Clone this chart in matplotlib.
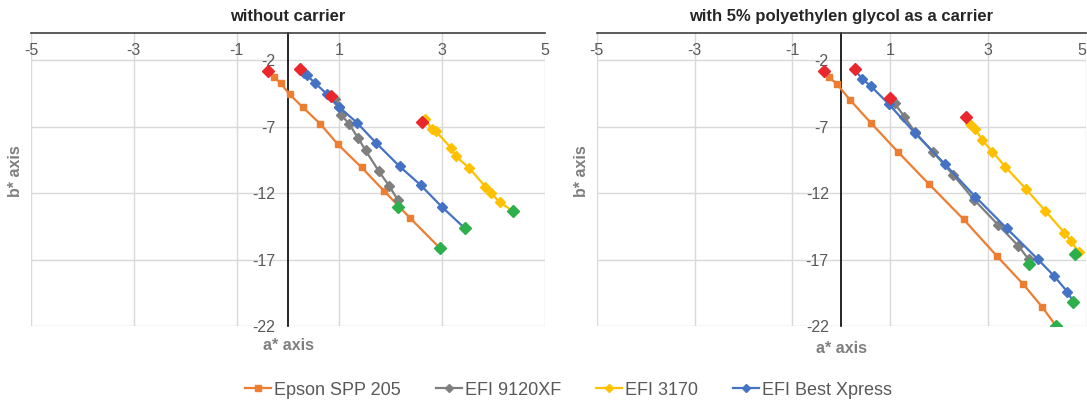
import matplotlib.pyplot as plt
from matplotlib.lines import Line2D

plt.rcParams["font.family"] = ["Liberation Sans", "DejaVu Sans"]
plt.rcParams["axes.unicode_minus"] = False

series_names = ["Epson SPP 205", "EFI 9120XF", "EFI 3170", "EFI Best Xpress"]
series_colors = ["#ED7D31", "#7F7F7F", "#FFC000", "#4472C4"]
series_markers = ["s", "D", "D", "D"]
panel_titles = ["without carrier", "with 5% polyethylen glycol as a carrier"]
x_ticks = [-5, -3, -1, 1, 3, 5]
y_ticks = [-22, -17, -12, -7, -2]

# without carrier (a*, b*)
wo_epson_a = [-0.39, -0.28, -0.14, 0.03, 0.29, 0.63, 0.97, 1.43, 1.87, 2.38, 2.96]
wo_epson_b = [-2.80, -3.26, -3.75, -4.58, -5.56, -6.81, -8.34, -10.07, -11.85, -13.90, -16.16]
wo_9120_a = [0.84, 0.92, 0.99, 1.04, 1.19, 1.36, 1.51, 1.77, 1.97, 2.14]
wo_9120_b = [-4.70, -4.95, -5.50, -6.14, -6.81, -7.84, -8.80, -10.38, -11.47, -12.55]
wo_3170_a = [2.61, 2.66, 2.80, 2.87, 3.18, 3.26, 3.52, 3.84, 3.94, 4.12, 4.37]
wo_3170_b = [-6.64, -6.44, -7.21, -7.34, -8.64, -9.22, -10.10, -11.53, -11.98, -12.70, -13.35]
wo_best_a = [0.24, 0.32, 0.37, 0.53, 0.75, 0.99, 1.34, 1.72, 2.17, 2.58, 2.99, 3.44]
wo_best_b = [-2.68, -2.95, -3.15, -3.75, -4.53, -5.51, -6.71, -8.26, -9.99, -11.40, -13.03, -14.65]
wo_start_a = [-0.39, 0.84, 2.61, 0.24]
wo_start_b = [-2.80, -4.70, -6.64, -2.68]
wo_end_a = [2.96, 2.14, 4.37, 3.44]
wo_end_b = [-16.16, -13.08, -13.35, -14.65]

# with 5% PEG (a*, b*)
peg_epson_a = [-0.36, -0.25, -0.09, 0.18, 0.60, 1.16, 1.79, 2.50, 3.18, 3.72, 4.11, 4.39]
peg_epson_b = [-2.80, -3.30, -3.80, -5.01, -6.71, -8.92, -11.32, -13.98, -16.74, -18.86, -20.59, -22.00]
peg_9120_a = [0.99, 1.09, 1.29, 1.50, 1.87, 2.29, 2.72, 3.21, 3.62, 3.83]
peg_9120_b = [-4.88, -5.26, -6.26, -7.39, -8.89, -10.65, -12.53, -14.41, -15.98, -16.99]
peg_3170_a = [2.55, 2.63, 2.74, 2.88, 3.09, 3.35, 3.78, 4.17, 4.56, 4.69, 4.85]
peg_3170_b = [-6.31, -6.81, -7.19, -8.02, -8.89, -10.02, -11.72, -13.35, -14.98, -15.59, -16.41]
peg_best_a = [0.27, 0.42, 0.60, 0.97, 1.51, 2.12, 2.74, 3.38, 4.02, 4.35, 4.62, 4.74]
peg_best_b = [-2.68, -3.40, -3.95, -5.31, -7.51, -9.84, -12.28, -14.65, -16.99, -18.24, -19.42, -20.17]
peg_start_a = [-0.36, 0.99, 2.55, 0.27]
peg_start_b = [-2.80, -4.88, -6.31, -2.68]
peg_end_a = [4.39, 3.83, 4.78, 4.74]
peg_end_b = [-22.00, -17.34, -16.59, -20.17]

panels = [
    ([(wo_epson_a, wo_epson_b), (wo_9120_a, wo_9120_b), (wo_3170_a, wo_3170_b), (wo_best_a, wo_best_b)],
     (wo_start_a, wo_start_b), (wo_end_a, wo_end_b)),
    ([(peg_epson_a, peg_epson_b), (peg_9120_a, peg_9120_b), (peg_3170_a, peg_3170_b), (peg_best_a, peg_best_b)],
     (peg_start_a, peg_start_b), (peg_end_a, peg_end_b)),
]

fig = plt.figure(figsize=(10.87, 4.03), dpi=100)
axes = [fig.add_axes([0.0285, 0.191, 0.4729, 0.726]),
        fig.add_axes([0.549, 0.191, 0.450, 0.726])]

tick_color = "#595959"
for ax, (series, start, end), title in zip(axes, panels, panel_titles):
    for (a, b), color, marker in zip(series, series_colors, series_markers):
        ms = 4.5 if marker == "s" else 5
        ax.plot(a, b, color=color, lw=1.6, marker=marker, ms=ms, zorder=3)
    ax.plot(start[0], start[1], ls="none", marker="D", ms=6.5, color="#E8282C", zorder=4)
    ax.plot(end[0], end[1], ls="none", marker="D", ms=6.5, color="#2DB04C", zorder=4)

    ax.set_xlim(-5, 5)
    ax.set_ylim(-22, 0)
    ax.set_xticks(x_ticks)
    ax.set_yticks(y_ticks)
    ax.grid(True, color="#D9D9D9", lw=1, zorder=0)

    for side in ["right", "bottom"]:
        ax.spines[side].set_visible(False)
    ax.spines["top"].set_color("#404040")
    ax.spines["top"].set_linewidth(1.2)
    ax.spines["left"].set_position(("data", 0))
    ax.spines["left"].set_color("#000000")
    ax.spines["left"].set_linewidth(1.2)

    ax.xaxis.set_ticks_position("top")
    ax.tick_params(axis="x", length=0, pad=-18, labelsize=11.5, labelcolor=tick_color)
    ax.tick_params(axis="y", length=0, pad=9, labelsize=11.5, labelcolor=tick_color)

    ax.set_title(title, fontsize=12, fontweight="bold", color="#262626", pad=9)
    ax.set_ylabel("b* axis", fontsize=11.5, fontweight="bold", color="#7F7F7F")
    ax.set_xlabel("a* axis", fontsize=11.5, fontweight="bold", color="#7F7F7F")

# keep the last "5" inside the figure on the right panel
axes[1].get_xticklabels()[-1].set_horizontalalignment("right")

axes[0].yaxis.set_label_coords(-0.015, 0.53)
axes[1].yaxis.set_label_coords(-0.016, 0.53)
axes[0].xaxis.set_label_coords(0.5, -0.041)
axes[1].xaxis.set_label_coords(0.5, -0.051)

handles = [Line2D([0], [0], color=c, lw=1.6, marker=m, ms=4.5)
           for c, m in zip(series_colors, series_markers)]
fig.legend(handles, series_names, loc="center", bbox_to_anchor=(0.523, 0.032), ncol=4,
           frameon=False, fontsize=13, handlelength=1.45, handletextpad=0.15,
           columnspacing=1.95, labelcolor=tick_color)

fig.savefig("out.png", dpi=100)
plt.close(fig)
